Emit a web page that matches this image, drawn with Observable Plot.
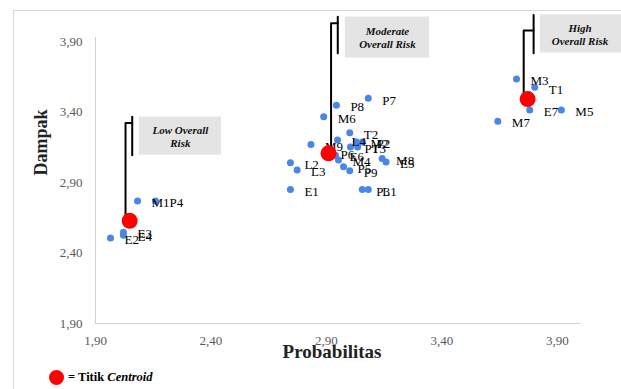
<!DOCTYPE html>
<html>
<head>
<meta charset="utf-8">
<script src="https://cdn.jsdelivr.net/npm/d3@7"></script>
<script src="https://cdn.jsdelivr.net/npm/@observablehq/plot@0.6"></script>
<style>
  html, body { margin: 0; padding: 0; background: #fff; }
  #wrap { position: relative; width: 621px; height: 389px; overflow: hidden; }
  #frame { position: absolute; left: 13px; top: 10px; width: 700px; height: 500px;
           border-left: 1px solid #d9d9d9; border-top: 1px solid #d9d9d9; }
  #chart { position: absolute; left: 0; top: 0; }
  #legend { position: absolute; left: 49px; top: 369px; height: 16px; display: flex; align-items: center;
            font-family: "Liberation Serif", "Times New Roman", serif; font-weight: bold; font-size: 12.5px; color: #000; }
  #legend .sw { width: 15px; height: 15px; border-radius: 50%; background: #ff0000; margin-right: 4px; }
  svg text { font-family: "Liberation Serif", "Times New Roman", serif; }
</style>
</head>
<body>
<div id="wrap">
  <div id="frame"></div>
  <div id="chart"></div>
  <div id="legend"><span class="sw"></span><span>= Titik <i>Centroid</i></span></div>
</div>
<script>
// ---- data ----
const riskLabels = ["E2","E3","E4","M1","P4",
  "M3","T1","E7","M5","M7",
  "P7","P8","M6","T2","M9","L4","M2","P2","P1","T3","P6","E6","M4","P5","P9","M8","E5","L2","L3","E1","P3","L1"];
const probabilitas = [1.965,2.021,2.021,2.082,2.160,
  3.723,3.802,3.780,3.917,3.642,
  3.081,2.943,2.888,3.001,2.833,2.948,3.030,3.056,3.004,3.035,2.900,2.939,2.952,2.974,3.001,3.141,3.158,2.744,2.773,2.744,3.055,3.081];
const dampak = [2.506,2.548,2.527,2.769,2.769,
  3.635,3.576,3.415,3.415,3.335,
  3.498,3.450,3.367,3.254,3.171,3.202,3.188,3.188,3.152,3.152,3.110,3.095,3.060,3.012,2.984,3.072,3.046,3.041,2.989,2.852,2.852,2.852];

const clusterNames = [["Low Overall","Risk"],["Moderate","Overall Risk"],["High","Overall Risk"]];
const centroidX = [2.048, 2.909, 3.771];
const centroidY = [2.629, 3.108, 3.493];

const tickValues = [1.9, 2.4, 2.9, 3.4, 3.9];
const xTitle = "Probabilitas";
const yTitle = "Dampak";

// annotation geometry (data units)
const boxX1 = [2.090, 2.982, 3.826];
const boxX2 = [2.445, 3.346, 4.180];
const boxYLow = [3.095, 3.784, 3.820];
const boxYHigh = [3.365, 4.075, 4.090];
const stemX = [2.030, 2.920, 3.754];
const stemTop = [3.323, 4.031, 3.980];
const barX = [2.059, 2.949, 3.797];
const barY1 = [3.095, 3.818, 3.818];
const barY2 = [3.367, 4.078, 4.090];

// ---- build tables ----
const points = riskLabels.map((k, i) => ({label: k, x: probabilitas[i], y: dampak[i]}));
const centroids = centroidX.map((x, i) => ({x, y: centroidY[i]}));
const boxes = clusterNames.map((n, i) => ({
  text: n.join("\n"), x1: boxX1[i], x2: boxX2[i], y1: boxYLow[i], y2: boxYHigh[i],
  cx: (boxX1[i] + Math.min(boxX2[i], 4.17)) / 2, cy: (boxYLow[i] + boxYHigh[i]) / 2
}));
const brackets = [];
clusterNames.forEach((n, i) => {
  brackets.push({g: "s" + i, x: stemX[i], y: centroidY[i]});
  brackets.push({g: "s" + i, x: stemX[i], y: stemTop[i]});
  brackets.push({g: "s" + i, x: barX[i], y: stemTop[i]});
  brackets.push({g: "b" + i, x: barX[i], y: barY1[i]});
  brackets.push({g: "b" + i, x: barX[i], y: barY2[i]});
});

const fmt = d => d.toFixed(2).replace(".", ",");
const serif = "Liberation Serif, Times New Roman, serif";

const chart = Plot.plot({
  width: 621,
  height: 389,
  marginLeft: 95,
  marginRight: 41,
  marginTop: 37,
  marginBottom: 66,
  x: {domain: [1.9, 4.0]},
  y: {domain: [1.9, 3.93]},
  style: {fontFamily: serif, background: "transparent", overflow: "visible"},
  marks: [
    Plot.ruleX([1.9], {stroke: "#d0d0d0"}),
    Plot.ruleY([1.9], {stroke: "#d0d0d0"}),
    Plot.axisX({ticks: tickValues, tickSize: 0, tickPadding: 12, tickFormat: fmt, fontSize: 13, fill: "#595959", label: null}),
    Plot.axisY({ticks: tickValues, tickSize: 0, tickPadding: 13, tickFormat: fmt, fontSize: 13, fill: "#595959", label: null}),
    Plot.text([xTitle], {text: d => d, frameAnchor: "bottom", dx: -6, dy: 34, fontSize: 19, fontWeight: "bold", fill: "#222"}),
    Plot.text([yTitle], {text: d => d, frameAnchor: "left", dx: -54, dy: -5, rotate: -90, fontSize: 18, fontWeight: "bold", fill: "#222"}),
    Plot.rect(boxes, {x1: "x1", x2: "x2", y1: "y1", y2: "y2", fill: "#e4e4e4"}),
    Plot.text(boxes, {x: "cx", y: "cy", text: "text", fontSize: 11, fontStyle: "italic", fontWeight: "bold", lineHeight: 1.2, fill: "#111"}),
    Plot.line(brackets, {x: "x", y: "y", z: "g", stroke: "#000", strokeWidth: 2, curve: "linear"}),
    Plot.dot(points, {x: "x", y: "y", r: 3.5, fill: "#4a86e8"}),
    Plot.text(points, {x: "x", y: "y", text: "label", dx: 14, dy: 2, textAnchor: "start", fontSize: 13, fill: "#000"}),
    Plot.dot(centroids, {x: "x", y: "y", r: 8, fill: "#ff0000"})
  ]
});
document.getElementById("chart").appendChild(chart);
</script>
</body>
</html>
